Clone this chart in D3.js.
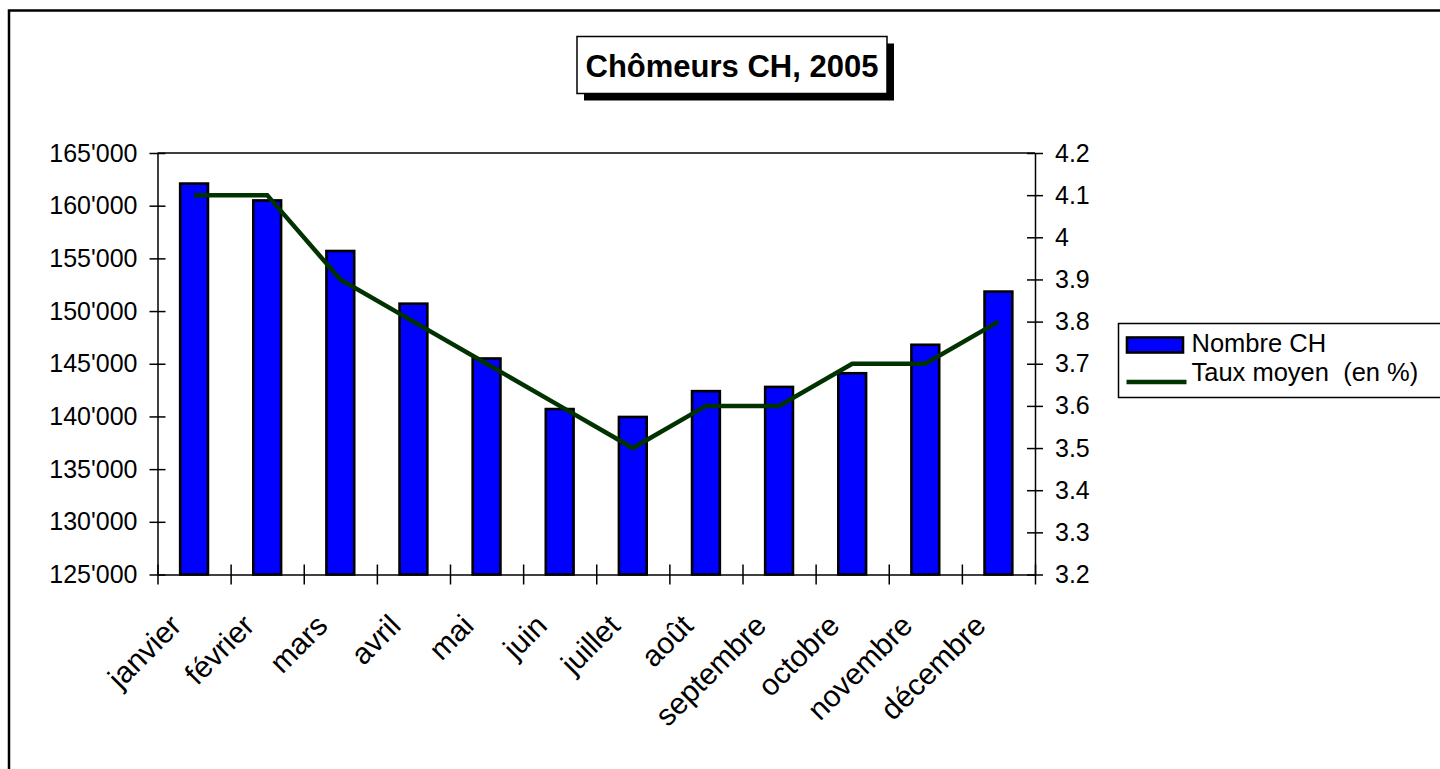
<!DOCTYPE html>
<html>
<head>
<meta charset="utf-8">
<script src="https://cdn.jsdelivr.net/npm/d3@7"></script>
<style>
  body { margin: 0; background: #fff; }
  svg { display: block; font-family: Arial, "Liberation Sans", sans-serif; }
  .axis path { stroke: #000; stroke-width: 1.5; }
  .axis line { stroke: #000; stroke-width: 1.5; }
  .axis text { fill: #000; font-size: 25px; }
</style>
</head>
<body>
<div class="chart"></div>
<script>
// Chômeurs CH, 2005
var months = ["janvier", "février", "mars", "avril", "mai", "juin", "juillet", "août", "septembre", "octobre", "novembre", "décembre"];
var nombre = [162100, 160500, 155700, 150700, 145500, 140700, 139950, 142400, 142800, 144100, 146800, 151850];
var taux = [4.1, 4.1, 3.9, 3.8, 3.7, 3.6, 3.5, 3.6, 3.6, 3.7, 3.7, 3.8];
var leftTicks = [125000, 130000, 135000, 140000, 145000, 150000, 155000, 160000, 165000];
var rightTicks = [3.2, 3.3, 3.4, 3.5, 3.6, 3.7, 3.8, 3.9, 4, 4.1, 4.2];
var seriesNames = ["Nombre CH", "Taux moyen  (en %)"];
var title = "Chômeurs CH, 2005";

var W = 1440, H = 769;
var margin = {top: 153, left: 157.5, right: 1440 - 1035, bottom: 769 - 574.5},
    width = W - margin.left - margin.right,
    height = H - margin.top - margin.bottom;

var svg = d3.select("div.chart").append("svg")
    .attr("width", W)
    .attr("height", H);

// outer frame (runs off the picture on the right / bottom)
svg.append("rect")
    .attr("x", 9).attr("y", 10.5)
    .attr("width", W + 20).attr("height", H + 20)
    .attr("fill", "#fff")
    .attr("stroke", "#000")
    .attr("stroke-width", 2.5);

var g = svg.append("g")
    .attr("transform", "translate(" + margin.left + "," + margin.top + ")");

var x = d3.scaleBand().domain(months).range([0, width]).padding(0);
var xEdge = d3.scaleLinear().domain([0, months.length]).range([0, width]);
var y = d3.scaleLinear().domain([125000, 165000]).range([height, 0]);
var y2 = d3.scaleLinear().domain([3.2, 4.2]).range([height, 0]);

var fmt = d3.formatLocale({decimal: ".", thousands: "'", grouping: [3], currency: ["", ""]}).format(",");

// top border of plot
g.append("line")
    .attr("x1", 0).attr("x2", width)
    .attr("y1", 0).attr("y2", 0)
    .attr("stroke", "#000").attr("stroke-width", 1.5);

// bars
var barW = x.bandwidth() * 0.38;
g.selectAll(".bar")
    .data(nombre)
  .enter().append("rect")
    .attr("class", "bar")
    .attr("x", (d, i) => x(months[i]) + x.bandwidth() / 2 - barW / 2)
    .attr("y", (d) => y(d))
    .attr("width", barW)
    .attr("height", (d) => height - y(d))
    .attr("fill", "#0000ff")
    .attr("stroke", "#000")
    .attr("stroke-width", 2.6);

// axes
var xAxis = g.append("g")
    .attr("class", "axis")
    .attr("transform", "translate(0," + height + ")")
    .call(d3.axisBottom(xEdge).tickValues(d3.range(0, months.length + 1)).tickFormat("").tickSize(10).tickSizeOuter(0));
xAxis.selectAll(".tick line").attr("y1", -10).attr("y2", 10);

var yAxis = g.append("g")
    .attr("class", "axis")
    .call(d3.axisLeft(y).tickValues(leftTicks).tickFormat(fmt).tickSize(8).tickSizeOuter(0));
yAxis.selectAll(".tick line").attr("x1", 8).attr("x2", -8);
yAxis.selectAll(".tick text").attr("x", -20);

var yAxis2 = g.append("g")
    .attr("class", "axis")
    .attr("transform", "translate(" + width + ",0)")
    .call(d3.axisRight(y2).tickValues(rightTicks).tickFormat((d) => String(+d.toFixed(1))).tickSize(8).tickSizeOuter(0));
yAxis2.selectAll(".tick line").attr("x1", -8).attr("x2", 8);
yAxis2.selectAll(".tick text").attr("x", 20);

// month labels
g.selectAll(".mlabel")
    .data(months)
  .enter().append("text")
    .attr("class", "mlabel")
    .attr("transform", (d) => "translate(" + (x(d) + x.bandwidth() / 2 - 11) + "," + (height + 53) + ") rotate(-45)")
    .attr("text-anchor", "end")
    .attr("font-size", 30)
    .text((d) => d);

// rate line
var line = d3.line()
    .x((d, i) => x(months[i]) + x.bandwidth() / 2)
    .y((d) => y2(d));
g.append("path")
    .datum(taux)
    .attr("d", line)
    .attr("fill", "none")
    .attr("stroke", "#003300")
    .attr("stroke-width", 4.5)
    .attr("stroke-linejoin", "miter");

// title box with shadow
var tb = {x: 577, y: 36.5, w: 310, h: 57};
svg.append("rect")
    .attr("x", tb.x + 7).attr("y", tb.y + 7)
    .attr("width", tb.w).attr("height", tb.h)
    .attr("fill", "#000");
svg.append("rect")
    .attr("x", tb.x).attr("y", tb.y)
    .attr("width", tb.w).attr("height", tb.h)
    .attr("fill", "#fff")
    .attr("stroke", "#000")
    .attr("stroke-width", 1.5);
svg.append("text")
    .attr("x", tb.x + tb.w / 2)
    .attr("y", 77)
    .attr("text-anchor", "middle")
    .attr("font-weight", "bold")
    .attr("font-size", 31)
    .text(title);

// legend
var lg = svg.append("g").attr("transform", "translate(1118.5,323.5)");
lg.append("rect")
    .attr("width", 400).attr("height", 74)
    .attr("fill", "#fff")
    .attr("stroke", "#000")
    .attr("stroke-width", 1.5);
lg.append("rect")
    .attr("x", 8.5).attr("y", 14)
    .attr("width", 56).attr("height", 15)
    .attr("fill", "#0000ff")
    .attr("stroke", "#000")
    .attr("stroke-width", 2.6);
lg.append("line")
    .attr("x1", 8).attr("x2", 68)
    .attr("y1", 58.5).attr("y2", 58.5)
    .attr("stroke", "#003300")
    .attr("stroke-width", 4.5);
lg.selectAll(".ltext")
    .data(seriesNames)
  .enter().append("text")
    .attr("class", "ltext")
    .attr("x", 73)
    .attr("y", (d, i) => 28.5 + i * 29)
    .attr("font-size", 25.5)
    .attr("xml:space", "preserve")
    .style("white-space", "pre")
    .text((d) => d);
</script>
</body>
</html>
